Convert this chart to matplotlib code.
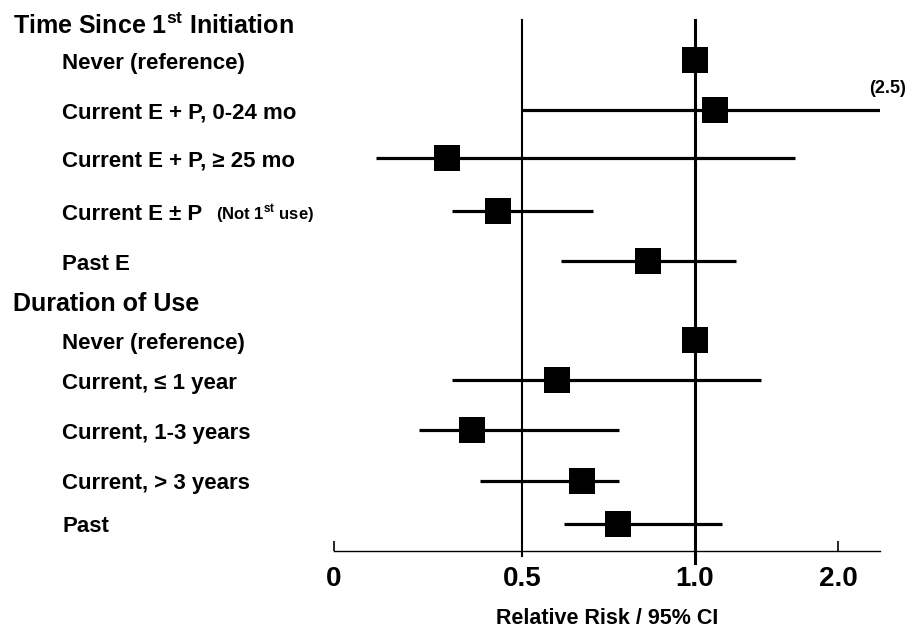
import numpy as np
import matplotlib
matplotlib.use("Agg")
import matplotlib.pyplot as plt
from matplotlib.transforms import blended_transform_factory

plt.rcParams['font.family'] = ['Liberation Sans', 'DejaVu Sans']
plt.rcParams['font.weight'] = 'bold'
plt.rcParams['mathtext.fontset'] = 'custom'
plt.rcParams['mathtext.rm'] = 'Liberation Sans:bold'
plt.rcParams['mathtext.bf'] = 'Liberation Sans:bold'

# data
groups = ["Time Since 1$^{\\mathbf{st}}$ Initiation", "Duration of Use"]
labels = ["Never (reference)", "Current E + P, 0-24 mo", "Current E + P, \u2265 25 mo",
          "Current E \u00b1 P", "Past E",
          "Never (reference)", "Current, \u2264 1 year", "Current, 1-3 years",
          "Current, > 3 years", "Past"]
rr = [1.0, 1.14, 0.30, 0.435, 0.864, 1.0, 0.60, 0.368, 0.672, 0.777]
ci_low = [np.nan, 0.5, 0.113, 0.314, 0.613, np.nan, 0.314, 0.225, 0.388, 0.62]
ci_high = [np.nan, 2.5, 1.70, 0.705, 1.29, np.nan, 1.46, 0.78, 0.78, 1.19]
ticks = [0, 0.5, 1.0, 2.0]
tick_labels = ["0", "0.5", "1.0", "2.0"]

# layout: vertical slots (top = small), group header slots
row_pos = [60, 110, 158, 211, 261, 340, 380, 430, 481, 524]
group_pos = [25, 303]

# nonlinear axis used in the original: 0, 0.5, 1, 2 unevenly spaced
knots_v = [0.0, 0.5, 1.0, 2.0, 3.0]
knots_p = [0.0, 188.0, 361.0, 504.0, 647.0]


def fwd(x):
    return np.interp(x, knots_v, knots_p)


def inv(p):
    return np.interp(p, knots_p, knots_v)


W, H = 909, 628
fig = plt.figure(figsize=(W / 100, H / 100), dpi=100)
ax = fig.add_axes([334 / W, 1 - 551 / H, 546 / W, 531 / H])
ax.set_xscale('function', functions=(fwd, inv))
ax.set_xlim(0, float(inv(546)))
ax.set_ylim(551, 20)

ax.hlines(row_pos, ci_low, ci_high, color='black', lw=2.3)
ax.plot(rr, row_pos, 's', color='black', markersize=19, mew=0)

ax.axvline(0.5, ymin=-0.01, ymax=1, color='black', lw=1.5, clip_on=False)
ax.axvline(1.0, ymin=-0.023, ymax=1, color='black', lw=2.2, clip_on=False)

for s in ['top', 'right', 'left']:
    ax.spines[s].set_visible(False)
ax.spines['bottom'].set_linewidth(1.0)
ax.set_yticks([])
ax.set_xticks(ticks)
ax.set_xticklabels(tick_labels, fontsize=20, fontweight='bold')
ax.xaxis.set_minor_locator(matplotlib.ticker.NullLocator())
ax.tick_params(axis='x', direction='in', length=7, width=1.2, pad=11)
ax.set_xlabel("Relative Risk / 95% CI", fontsize=15.5, fontweight='bold', labelpad=11)

# row and group labels sit left of the axes
tr = blended_transform_factory(fig.transFigure, ax.transData)
for g, y in zip(groups, group_pos):
    fig.text(13 / W, y + 1, g, transform=tr, fontsize=18, fontweight='bold', va='center')
for lab, y in zip(labels, row_pos):
    fig.text(62 / W, y + 3, lab, transform=tr, fontsize=16, fontweight='bold', va='center')
fig.text(216 / W, row_pos[3] + 3, "(Not 1$^{\\mathbf{st}}$ use)", transform=tr,
         fontsize=12, fontweight='bold', va='center')
fig.text(906 / W, row_pos[1] - 13, "(2.5)", transform=tr, fontsize=13,
         fontweight='bold', va='bottom', ha='right')

fig.savefig("out.png", dpi=100, facecolor='white')
